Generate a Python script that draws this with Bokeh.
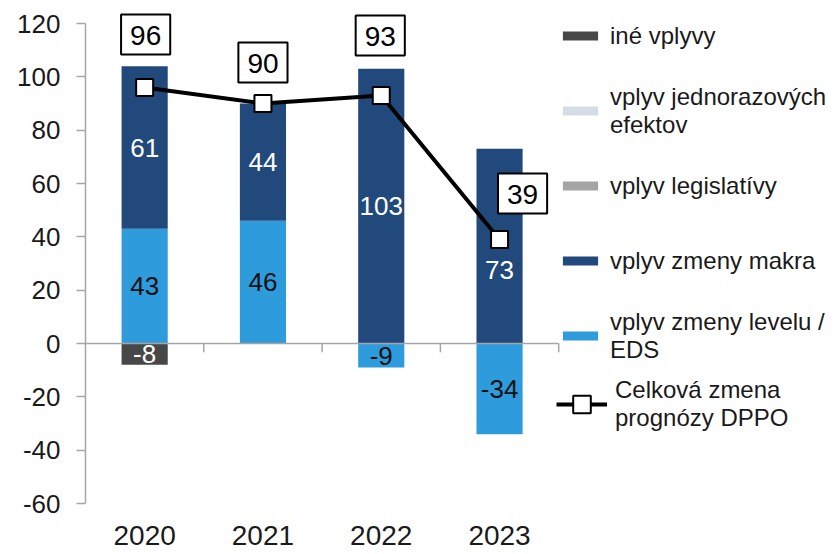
import numpy as np
from bokeh.plotting import figure
from bokeh.models import (ColumnDataSource, Range1d, FixedTicker, Legend, LegendItem, Label)
from bokeh.embed import file_html
from bokeh.resources import INLINE
from bokeh.core.properties import value

# ---------------- data ----------------
years = ["2020", "2021", "2022", "2023"]
ine_vplyvy = [-8, 0, 0, 0]
jednorazove = [0, 0, 0, 0]
legislativa = [0, 0, 0, 0]
makro = [61, 44, 103, 73]
level_eds = [43, 46, -9, -34]
celkova = [96, 90, 93, 39]
y_ticks = [-60, -40, -20, 0, 20, 40, 60, 80, 100, 120]

names = {
    "ine": "iné vplyvy",
    "jedn": "vplyv jednorazových\nefektov",
    "legis": "vplyv legislatívy",
    "makro": "vplyv zmeny makra",
    "level": "vplyv zmeny levelu /\nEDS",
}
total_name = "Celková zmena\nprognózy DPPO"
values = {"ine": ine_vplyvy, "jedn": jednorazove, "legis": legislativa,
          "makro": makro, "level": level_eds}
colors = {"ine": "#474747", "jedn": "#d6dce5", "legis": "#a5a5a5",
          "makro": "#21497c", "level": "#2e9bdc"}
label_colors = {"ine": "white", "jedn": "black", "legis": "black",
                "makro": "white", "level": "#111111"}
stack_order = ["level", "makro", "legis", "jedn", "ine"]
legend_order = ["ine", "jedn", "legis", "makro", "level"]

# style-only offsets (pixels)
box_dx = [1, 0, -1, 23]
box_dy = [53, 41, 60, 46]
inbar_dy = {"makro": [0, 0, 0, 24]}

FONT = "Liberation Sans"
n = len(years)
xs = np.arange(n) + 0.5
bounds = np.arange(1, n + 1)

FRAME_W, FRAME_H = 753, 519
CAT_PX = 118.3
PX_PER_UNIT = 480 / 180
Y_TOP = 120 + 23 / PX_PER_UNIT
Y_BOT = Y_TOP - FRAME_H / PX_PER_UNIT
p = figure(frame_width=FRAME_W, frame_height=FRAME_H,
           x_range=Range1d(0, FRAME_W / CAT_PX), y_range=Range1d(Y_BOT, Y_TOP),
           output_backend="svg", toolbar_location=None,
           min_border_left=85, min_border_right=0, min_border_top=0, min_border_bottom=33)
p.outline_line_color = None
p.xgrid.grid_line_color = None
p.ygrid.grid_line_color = None
p.background_fill_color = "white"
p.border_fill_color = "white"

# stacked bars
pos_base = np.zeros(n)
neg_base = np.zeros(n)
renderers = {}
lab_x, lab_y, lab_t, lab_c, lab_dy = [], [], [], [], []
for key in stack_order:
    v = np.array(values[key], dtype=float)
    bottom = np.where(v >= 0, pos_base, neg_base)
    top = bottom + v
    pos_base = np.where(v >= 0, top, pos_base)
    neg_base = np.where(v < 0, top, neg_base)
    src = ColumnDataSource(dict(x=xs, bottom=bottom, top=top))
    renderers[key] = p.vbar(x="x", bottom="bottom", top="top", width=0.39, source=src,
                            fill_color=colors[key], line_color=None)
    offs = inbar_dy.get(key, [0] * n)
    for i in range(n):
        if v[i] != 0:
            lab_x.append(xs[i])
            lab_y.append((bottom[i] + top[i]) / 2)
            lab_t.append(str(int(v[i])))
            lab_c.append(label_colors[key])
            lab_dy.append(offs[i])

# zero line (category axis) and category boundary ticks
p.segment(x0=[0], y0=[0], x1=[n], y1=[0], line_color="#a6a6a6", line_width=1.5)
p.segment(x0=bounds, y0=[0] * n, x1=bounds, y1=[-3.3] * n, line_color="#a6a6a6", line_width=1.5)

lab_src = ColumnDataSource(dict(x=lab_x, y=lab_y, text=lab_t, color=lab_c, dy=lab_dy))
p.text(x="x", y="y", text="text", text_color="color", y_offset="dy", source=lab_src,
       text_align="center", text_baseline="middle", text_font=value(FONT),
       text_font_size="26px")

# total line
r_line = p.line(xs, celkova, line_color="black", line_width=4)
r_pts = p.scatter(xs, celkova, marker="square", size=17, fill_color="white",
                  line_color="black", line_width=2)

for x, y, dx, dy in zip(xs, celkova, box_dx, box_dy):
    p.add_layout(Label(x=x, y=y, text=str(y), x_offset=dx, y_offset=dy,
                       text_align="center", text_baseline="middle", text_font=FONT,
                       text_font_size="28px", text_color="black",
                       background_fill_color="white", border_line_color="black",
                       border_line_width=2,
                       padding=dict(left=9, right=9, top=11, bottom=10)))

# axes
yax = p.yaxis[0]
yax.ticker = FixedTicker(ticks=y_ticks)
yax.major_label_overrides = {t: str(t) for t in y_ticks}
yax.bounds = (-60, 120)
yax.axis_line_color = "#a6a6a6"
yax.axis_line_width = 1.5
yax.major_tick_line_color = "#a6a6a6"
yax.major_tick_line_width = 1.5
yax.major_tick_out = 9
yax.major_tick_in = 0
yax.minor_tick_line_color = None
yax.major_label_text_font = FONT
yax.major_label_text_font_size = "26px"
yax.major_label_text_color = "#1a1a1a"
yax.major_label_standoff = 16

xax = p.xaxis[0]
xax.ticker = FixedTicker(ticks=list(xs))
xax.major_label_overrides = {float(x): y for x, y in zip(xs, years)}
xax.axis_line_color = None
xax.major_tick_line_color = None
xax.minor_tick_line_color = None
xax.major_label_text_font = FONT
xax.major_label_text_font_size = "28px"
xax.major_label_text_color = "#1a1a1a"
xax.major_label_standoff = 0

common = dict(label_standoff=8, label_text_font=FONT, label_text_font_size="24px",
              label_text_color="#1a1a1a", padding=3, margin=0,
              border_line_color=None, background_fill_alpha=0)
items = [LegendItem(label=names[k], renderers=[renderers[k]]) for k in legend_order]
legend = Legend(items=items, location=(473, 155), glyph_width=44, glyph_height=11,
                label_height=57, spacing=18, **common)
p.add_layout(legend)

legend2 = Legend(items=[LegendItem(label=total_name, renderers=[r_line, r_pts])],
                 location=(471, 87), glyph_width=51, glyph_height=44, **common)
p.add_layout(legend2)

open("out.html", "w").write(file_html(p, INLINE))
